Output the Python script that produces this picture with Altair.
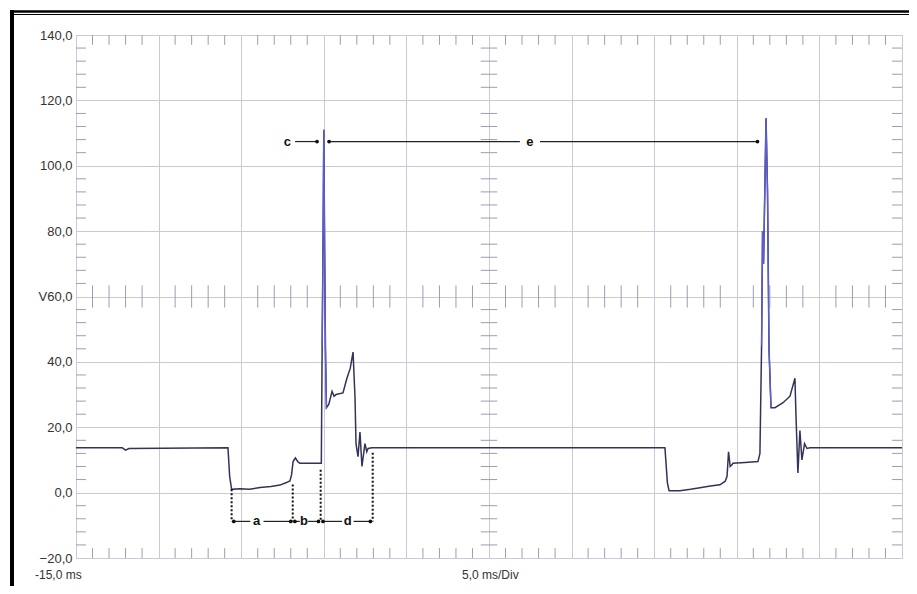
import altair as alt
import pandas as pd
import numpy as np

# ---- trace data (time in ms, voltage in V) ----
t_ms = [-15.0, -12.2, -12.0, -11.8, -5.80, -5.70, -5.58, -5.07, -4.50, -3.86, -3.20, -2.65, -2.30,
        -2.05, -1.95, -1.86, -1.72, -1.55, -1.44, -0.23, -0.15, -0.10, -0.04, 0.00, 0.05, 0.10,
        0.16, 0.30, 0.50, 0.62, 0.74, 1.16, 1.40, 1.60, 1.77, 1.89, 1.95, 2.07, 2.19, 2.31, 2.49,
        2.60, 2.68, 2.92, 20.65, 20.80, 20.90, 21.56, 22.20, 22.77, 23.40, 23.98, 24.30, 24.41,
        24.50, 24.60, 24.71, 24.77, 25.50, 26.28, 26.40, 26.50, 26.56, 26.62, 26.77, 26.86, 26.95,
        27.07, 27.31, 27.80, 28.22, 28.52, 28.58, 28.70, 28.82, 28.94, 29.10, 29.25, 29.43, 35.0]
volts = [13.7, 13.7, 13.0, 13.5, 13.7, 5.0, 1.0, 1.2, 1.0, 1.6, 1.9, 2.3, 3.0,
         3.6, 5.5, 9.5, 10.6, 9.3, 9.0, 9.0, 9.0, 45.0, 80.0, 111.0, 75.0, 44.0,
         26.0, 27.0, 31.0, 29.5, 30.0, 30.5, 35.0, 38.0, 43.0, 29.0, 15.0, 11.0, 18.5, 8.0, 15.0,
         12.5, 13.5, 13.7, 13.7, 3.0, 0.6, 0.6, 1.0, 1.5, 2.0, 2.4, 3.5, 5.0,
         12.5, 8.0, 8.5, 9.0, 9.2, 9.5, 12.0, 45.0, 80.0, 70.0, 114.5, 92.0, 44.0,
         26.0, 26.0, 27.5, 29.5, 35.0, 24.0, 6.0, 19.0, 10.0, 15.0, 13.5, 13.7, 13.7]

# ---- annotation data ----
dot_t = [-5.58, -1.88, -0.19, 2.96]
dot_top = [1.0, 2.5, 7.0, 12.2]
meas_level = -8.8
top_level = 107.4
label_text = ["a", "b", "d", "c", "e"]
label_t = [-4.06, -1.20, 1.45, -2.21, 12.48]
label_v = [meas_level, meas_level, meas_level, top_level, top_level]
seg_x = [-5.45, -3.65, -1.75, -0.95, -0.05, 1.80, -1.74, 0.32, 13.09]
seg_x2 = [-4.45, -2.00, -1.45, -0.32, 1.10, 2.82, -0.41, 11.87, 26.25]
seg_v = [meas_level] * 6 + [top_level] * 3
end_t = [-5.45, -2.00, -1.75, -0.32, -0.05, 2.82, -0.41, 0.32, 26.25]
end_v = [meas_level] * 6 + [top_level] * 3

x_major = list(range(-15, 36, 5))
y_major = list(range(-20, 141, 20))

GRID = "#c9cad8"
TICK = "#9c9db0"
FONT = "Liberation Sans"

df = pd.DataFrame({"t": t_ms, "v": volts, "i": range(len(t_ms))})
spike = df[((df.t >= -0.12) & (df.t <= 0.17)) | ((df.t >= 26.45) & (df.t <= 27.08))].copy()
spike["g"] = np.where(spike.t < 10, 1, 2)

xs = alt.Scale(domain=[-15, 35], nice=False, zero=False)
ys = alt.Scale(domain=[-20, 140], nice=False, zero=False)

x_axis = alt.Axis(values=x_major, labels=False, ticks=False, domain=False, title=None,
                  grid=True, gridColor=GRID, gridWidth=1)
y_axis = alt.Axis(values=y_major, ticks=False, domain=False, title=None, grid=True,
                  gridColor=GRID, gridWidth=1, labelPadding=4, labelFontSize=13,
                  labelColor="#333333", labelFont=FONT,
                  labelExpr="datum.value == 60 ? 'V60,0' : replace(format(datum.value, '.1f'), '.', ',')")

base_line = alt.Chart(df).mark_line(color="#33335a", strokeWidth=1.5).encode(
    x=alt.X("t:Q", scale=xs, axis=x_axis),
    y=alt.Y("v:Q", scale=ys, axis=y_axis),
    order="i:Q",
)
blue_line = alt.Chart(spike).mark_line(color="#5c5cd8", strokeWidth=1.3).encode(
    x=alt.X("t:Q", scale=xs), y=alt.Y("v:Q", scale=ys), detail="g:N", order="i:Q"
)

# minor ticks
rows = []
for v in np.arange(-20, 141, 4):
    if v % 20 != 0:
        rows.append((-15, -14.4, v, v))
        rows.append((34.4, 35, v, v))
        rows.append((9.5, 10.5, v, v))
for t in np.arange(-15, 36, 1):
    if t % 5 != 0:
        rows.append((t, t, 137.0, 140))
        rows.append((t, t, -20, -17.0))
        rows.append((t, t, 56.6, 63.4))
ticks_df = pd.DataFrame(rows, columns=["x", "x2", "y", "y2"])
minor = alt.Chart(ticks_df).mark_rule(color=TICK, strokeWidth=1).encode(
    x=alt.X("x:Q", scale=xs), x2="x2", y=alt.Y("y:Q", scale=ys), y2="y2"
)

dots_df = pd.DataFrame({"t": dot_t, "top": dot_top, "bot": [meas_level] * 4})
dotted = alt.Chart(dots_df).mark_rule(color="#111111", strokeWidth=2, strokeDash=[2, 2]).encode(
    x=alt.X("t:Q", scale=xs), y=alt.Y("top:Q", scale=ys), y2="bot"
)
seg_df = pd.DataFrame({"x": seg_x, "x2": seg_x2, "v": seg_v})
segs = alt.Chart(seg_df).mark_rule(color="#222222", strokeWidth=1.2).encode(
    x=alt.X("x:Q", scale=xs), x2="x2", y=alt.Y("v:Q", scale=ys)
)
end_df = pd.DataFrame({"t": end_t, "v": end_v})
ends = alt.Chart(end_df).mark_point(filled=True, color="#111111", size=14, opacity=1).encode(
    x=alt.X("t:Q", scale=xs), y=alt.Y("v:Q", scale=ys)
)
lab_df = pd.DataFrame({"t": label_t, "v": label_v, "s": label_text})
labels = alt.Chart(lab_df).mark_text(font=FONT, fontSize=13, fontWeight="bold", color="#111111").encode(
    x=alt.X("t:Q", scale=xs), y=alt.Y("v:Q", scale=ys), text="s:N"
)

dummy = pd.DataFrame({"k": [0]})
txt1 = alt.Chart(dummy).mark_text(text="-15,0 ms", align="left", baseline="middle", font=FONT,
                                  fontSize=12, color="#333333").encode(x=alt.value(-41), y=alt.value(540))
txt2 = alt.Chart(dummy).mark_text(text="5,0 ms/Div", align="left", baseline="middle", font=FONT,
                                  fontSize=12, color="#333333").encode(x=alt.value(386), y=alt.value(540))

frame_top1 = alt.Chart(dummy).mark_rule(color="#000000", strokeWidth=2.5).encode(
    x=alt.value(-66), x2=alt.value(833), y=alt.value(-23.5))
frame_top2 = alt.Chart(dummy).mark_rule(color="#000000", strokeWidth=1).encode(
    x=alt.value(-66), x2=alt.value(833), y=alt.value(-20.5))
frame_left = alt.Chart(dummy).mark_rule(color="#000000", strokeWidth=4).encode(
    x=alt.value(-64), y=alt.value(-25), y2=alt.value(560))

chart = alt.layer(
    base_line, minor, blue_line, dotted, segs, ends, labels, txt1, txt2,
    frame_top1, frame_top2, frame_left
).properties(
    width=826, height=523, autosize="none",
    padding={"left": 68, "top": 27, "right": 7, "bottom": 28},
    background="white",
).configure_view(stroke="#b4b5c6", strokeWidth=1)

chart.save("out.html", embed_options={"renderer": "svg", "actions": False})
